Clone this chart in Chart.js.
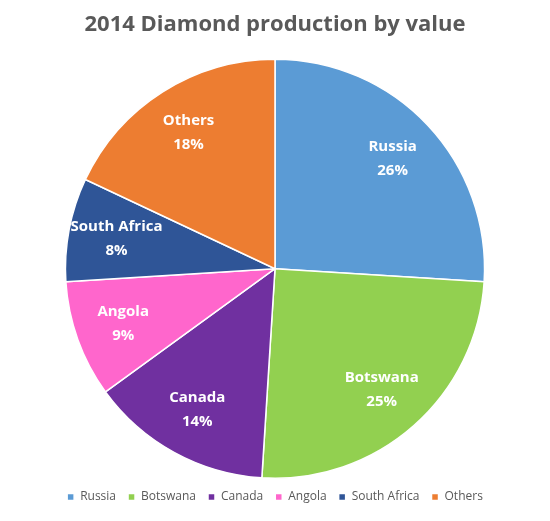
<!DOCTYPE html>
<html><head><meta charset="utf-8">
<script src="https://cdn.jsdelivr.net/npm/chart.js@4"></script>
<style>html,body{margin:0;padding:0;background:#fff}#w{width:550px;height:521px}</style>
</head><body><div id="w"><canvas id="c"></canvas></div>
<script>
const categories = ["Russia","Botswana","Canada","Angola","South Africa","Others"];
const values = [26,25,14,9,8,18];
const colors = ["#5B9BD5","#92D050","#7030A0","#FF66CC","#2F5597","#ED7D31"];
const labelPlugin = {
  id:'lbl',
  afterDatasetsDraw(chart){
    const ctx=chart.ctx, meta=chart.getDatasetMeta(0);
    ctx.save();
    ctx.fillStyle='#fff'; ctx.font='bold 15px "Open Sans"'; ctx.textAlign='center'; ctx.textBaseline='middle';
    meta.data.forEach((a,i)=>{
      const mid=(a.startAngle+a.endAngle)/2, r=a.outerRadius*0.77;
      const x=a.x+Math.cos(mid)*r, y=a.y+Math.sin(mid)*r;
      ctx.fillText(categories[i],x,y-12);
      ctx.fillText(values[i]+'%',x,y+12);
    });
    ctx.restore();
  }
};
new Chart(document.getElementById('c'),{
  type:'pie',
  data:{labels:categories,datasets:[{data:values,backgroundColor:colors,borderColor:'#fff',borderWidth:1.5}]},
  options:{responsive:true,maintainAspectRatio:false,animation:false,
    layout:{padding:{top:0,bottom:8}},
    plugins:{
      title:{display:true,text:'2014 Diamond production by value',color:'#595959',font:{family:'Open Sans',size:22,weight:'bold'},padding:{top:12,bottom:20}},
      legend:{position:'bottom',labels:{boxWidth:7,boxHeight:7,color:'#595959',font:{family:'Open Sans',size:12},padding:12}},
      tooltip:{enabled:false}
    }},
  plugins:[labelPlugin]
});
</script></body></html>
